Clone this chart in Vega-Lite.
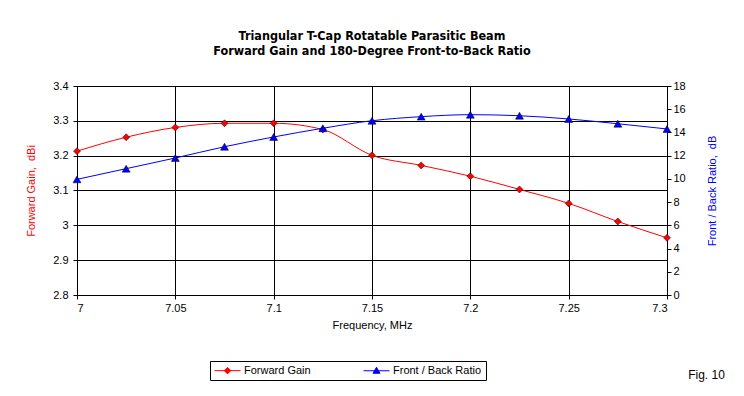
{
  "$schema": "https://vega.github.io/schema/vega-lite/v6.json",
  "width": 590,
  "height": 209,
  "autosize": {"type": "none"},
  "padding": {"left": 77, "top": 86, "right": 77, "bottom": 101},
  "background": "white",
  "title": {
    "text": ["Triangular T-Cap Rotatable Parasitic Beam", "Forward Gain and 180-Degree Front-to-Back Ratio"],
    "font": "DejaVu Sans Condensed, sans-serif",
    "fontSize": 12.5,
    "fontWeight": "bold",
    "lineHeight": 15,
    "offset": 22.5,
    "anchor": "middle",
    "color": "black"
  },
  "config": {
    "view": {"stroke": "black", "strokeWidth": 1},
    "axis": {
      "labelFont": "Liberation Sans",
      "labelFontSize": 11,
      "labelColor": "black",
      "titleFont": "Liberation Sans",
      "titleFontSize": 11,
      "titleFontWeight": "normal",
      "domainColor": "black",
      "tickColor": "black",
      "gridColor": "black",
      "gridOpacity": 1,
      "tickSize": 4
    }
  },
  "data": {
    "values": [
      {"f": 7.0, "series": "Forward Gain", "value": 3.213},
      {"f": 7.025, "series": "Forward Gain", "value": 3.253},
      {"f": 7.05, "series": "Forward Gain", "value": 3.281},
      {"f": 7.075, "series": "Forward Gain", "value": 3.293},
      {"f": 7.1, "series": "Forward Gain", "value": 3.293},
      {"f": 7.125, "series": "Forward Gain", "value": 3.275},
      {"f": 7.15, "series": "Forward Gain", "value": 3.201},
      {"f": 7.175, "series": "Forward Gain", "value": 3.172},
      {"f": 7.2, "series": "Forward Gain", "value": 3.141},
      {"f": 7.225, "series": "Forward Gain", "value": 3.103},
      {"f": 7.25, "series": "Forward Gain", "value": 3.063},
      {"f": 7.275, "series": "Forward Gain", "value": 3.011},
      {"f": 7.3, "series": "Forward Gain", "value": 2.964},
      {"f": 7.0, "series": "Front / Back Ratio", "value": 9.96},
      {"f": 7.025, "series": "Front / Back Ratio", "value": 10.88},
      {"f": 7.05, "series": "Front / Back Ratio", "value": 11.8},
      {"f": 7.075, "series": "Front / Back Ratio", "value": 12.77},
      {"f": 7.1, "series": "Front / Back Ratio", "value": 13.61},
      {"f": 7.125, "series": "Front / Back Ratio", "value": 14.36},
      {"f": 7.15, "series": "Front / Back Ratio", "value": 15.01},
      {"f": 7.175, "series": "Front / Back Ratio", "value": 15.36},
      {"f": 7.2, "series": "Front / Back Ratio", "value": 15.53},
      {"f": 7.225, "series": "Front / Back Ratio", "value": 15.44},
      {"f": 7.25, "series": "Front / Back Ratio", "value": 15.16},
      {"f": 7.275, "series": "Front / Back Ratio", "value": 14.75},
      {"f": 7.3, "series": "Front / Back Ratio", "value": 14.3}
    ]
  },
  "layer": [
    {
      "transform": [{"filter": "datum.series == 'Forward Gain'"}],
      "encoding": {
        "x": {
          "field": "f",
          "type": "quantitative",
          "scale": {"domain": [7, 7.3], "nice": false, "zero": false},
          "axis": {
            "values": [7, 7.05, 7.1, 7.15, 7.2, 7.25, 7.3],
            "format": "~g",
            "title": "Frequency, MHz",
            "grid": true,
            "labelPadding": 3,
            "titlePadding": 6
          }
        },
        "y": {
          "field": "value",
          "type": "quantitative",
          "scale": {"domain": [2.8, 3.4], "nice": false, "zero": false},
          "axis": {
            "orient": "left",
            "values": [2.8, 2.9, 3, 3.1, 3.2, 3.3, 3.4],
            "format": "~g",
            "title": "Forward Gain, \u00a0dBi",
            "titleColor": "#FF0000",
            "grid": true,
            "labelPadding": 5,
            "titlePadding": 16
          }
        },
        "color": {
          "field": "series",
          "type": "nominal",
          "scale": {"domain": ["Forward Gain", "Front / Back Ratio"], "range": ["#FF0000", "#0000FF"]},
          "legend": {
            "orient": "none",
            "legendX": 133,
            "legendY": 275,
            "direction": "horizontal",
            "columns": 2,
            "title": null,
            "strokeColor": "black",
            "fillColor": "white",
            "padding": 4,
            "columnPadding": 50,
            "labelFont": "Liberation Sans",
            "labelFontSize": 11,
            "labelColor": "black",
            "labelLimit": 400,
            "symbolSize": 100,
            "symbolOffset": 8,
            "labelOffset": 11,
            "symbolStrokeWidth": 1,
            "encode": {
              "legend": {
                "update": {
                  "width": {"value": 320}
                }
              },
              "symbols": {
                "update": {
                  "shape": {"signal": "datum.value == 'Forward Gain' ? 'M-2.6,0L2.6,0M0,-0.65L0.65,0L0,0.65L-0.65,0Z' : 'M-2.6,0L2.6,0M0,-0.7L0.7,0.5L-0.7,0.5Z'"},
                  "stroke": {"signal": "scale('color', datum.value)"},
                  "fill": {"signal": "scale('color', datum.value)"},
                  "strokeWidth": {"value": 1},
                  "opacity": {"value": 1}
                }
              }
            }
          }
        }
      },
      "layer": [
        {"mark": {"type": "line", "interpolate": "monotone", "strokeWidth": 1}},
        {"mark": {"type": "point", "shape": "diamond", "filled": true, "size": 49, "stroke": "#000000", "strokeWidth": 0.5, "opacity": 1}}
      ]
    },
    {
      "transform": [{"filter": "datum.series == 'Front / Back Ratio'"}],
      "encoding": {
        "x": {"field": "f", "type": "quantitative"},
        "y": {
          "field": "value",
          "type": "quantitative",
          "scale": {"domain": [0, 18], "nice": false},
          "axis": {
            "orient": "right",
            "values": [0, 2, 4, 6, 8, 10, 12, 14, 16, 18],
            "title": "Front / Back Ratio, \u00a0dB",
            "titleColor": "#0000FF",
            "titleAngle": 270,
            "grid": false,
            "labelPadding": 2,
            "titlePadding": 32
          }
        },
        "color": {
          "field": "series",
          "type": "nominal",
          "scale": {"domain": ["Forward Gain", "Front / Back Ratio"], "range": ["#FF0000", "#0000FF"]}
        }
      },
      "layer": [
        {"mark": {"type": "line", "interpolate": "monotone", "strokeWidth": 1}},
        {"mark": {"type": "point", "shape": "triangle-up", "filled": true, "size": 64, "stroke": "#000000", "strokeWidth": 0.5, "opacity": 1}}
      ]
    },
    {
      "data": {"values": [{"t": "Fig. 10"}]},
      "mark": {"type": "text", "font": "Liberation Sans", "fontSize": 12, "align": "center", "baseline": "middle", "fill": "black", "clip": false},
      "encoding": {
        "x": {"datum": 7.3201},
        "y": {"datum": 2.571, "scale": {"domain": [2.8, 3.4], "nice": false, "zero": false}, "axis": null},
        "text": {"field": "t", "type": "nominal"}
      }
    }
  ],
  "resolve": {"scale": {"y": "independent"}}
}
